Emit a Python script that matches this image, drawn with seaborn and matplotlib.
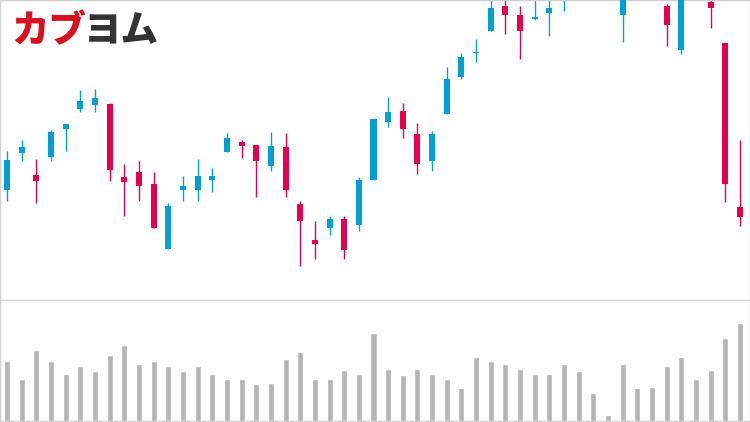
import numpy as np
import matplotlib
matplotlib.use("Agg")
import matplotlib.pyplot as plt
import seaborn as sns

# daily OHLC (yen) and volume (thousand shares)
opens = [1110, 1147, 1125, 1143, 1171, 1191, 1195, 1196, 1123, 1128,
         1116, 1051, 1110, 1110, 1120, 1148, 1158, 1155, 1134, 1153,
         1096, 1060, 1072, 1081, 1075, 1120, 1178, 1189, 1166, 1139,
         1186, 1223, 1247, 1269, 1294, 1285, 1281, 1287, 1303, 1318,
         1330, 1322, 1285, 1318, 1330, 1294, 1250, 1315, 1298, 1257,
         1093]
highs = [1149, 1160, 1141, 1170, 1176, 1210, 1211, 1197, 1136, 1139,
         1128, 1097, 1124, 1141, 1132, 1167, 1160, 1155, 1168, 1167,
         1099, 1079, 1084, 1084, 1123, 1181, 1203, 1197, 1177, 1169,
         1233, 1247, 1261, 1303, 1305, 1294, 1308, 1310, 1326, 1338,
         1342, 1345, 1325, 1340, 1336, 1296, 1322, 1333, 1312, 1257,
         1160]
lows = [1099, 1139, 1097, 1139, 1149, 1188, 1188, 1119, 1084, 1099,
        1072, 1051, 1099, 1099, 1108, 1148, 1142, 1103, 1129, 1103,
        1034, 1041, 1065, 1041, 1069, 1120, 1173, 1162, 1126, 1129,
        1186, 1221, 1238, 1269, 1266, 1241, 1280, 1264, 1289, 1310,
        1312, 1316, 1258, 1308, 1304, 1254, 1246, 1306, 1272, 1098,
        1074]
closes = [1140, 1153, 1119, 1168, 1176, 1199, 1202, 1130, 1118, 1114,
          1072, 1094, 1114, 1124, 1124, 1162, 1154, 1139, 1154, 1110,
          1079, 1056, 1081, 1050, 1120, 1181, 1188, 1171, 1136, 1166,
          1221, 1243, 1248, 1292, 1285, 1269, 1283, 1292, 1318, 1330,
          1322, 1335, 1318, 1330, 1312, 1275, 1315, 1325, 1292, 1116,
          1083]
volume = [60, 42, 71, 60, 47, 55, 50, 66, 76, 57,
          60, 55, 50, 55, 47, 42, 42, 37, 38, 62,
          69, 42, 42, 51, 47, 88, 52, 46, 52, 47,
          42, 33, 64, 60, 57, 52, 47, 47, 57, 50,
          28, 6, 57, 33, 34, 55, 64, 42, 51, 83,
          98]

UP = "#00a0d2"
DOWN = "#e6004e"
VOL = "#b4b4b4"
FRAME = "#d0d0d0"

sns.set_style("white")
plt.rcParams["font.family"] = ["Noto Sans CJK JP", "DejaVu Sans"]

W, H = 750, 422
fig = plt.figure(figsize=(W / 100, H / 100), dpi=100)
ax = fig.add_axes([0, 1 - 300 / H, 1, 300 / H])
axv = fig.add_axes([0, 1 / H, 1, 120 / H])

n = len(opens)
idx = np.arange(n)
o, h, l, c = map(np.array, (opens, highs, lows, closes))
up = c >= o
colors = np.where(up, UP, DOWN)

ax.vlines(idx, l, h, colors=colors, lw=1.0, zorder=2)
ax.bar(idx, np.maximum(np.abs(c - o), 0.8), bottom=np.minimum(o, c),
       width=0.41, color=colors, linewidth=0, zorder=3)
ax.set_ylim(1000, 1300)

sns.barplot(x=idx, y=volume, color=VOL, saturation=1, width=0.41, ax=axv)
axv.set_ylim(0, 120)

xlim = (-7 / 14.66, (W - 7) / 14.66)
for a in (ax, axv):
    a.set_xlim(*xlim)
    a.set_xticks([])
    a.set_yticks([])
    a.set_xlabel("")
    a.set_ylabel("")
    for s in a.spines.values():
        s.set_visible(True)
        s.set_color(FRAME)
        s.set_linewidth(1.0)
axv.spines["top"].set_visible(False)

# logo
fig.text(11 / W, 1 - 31 / H, "カブ", color="#d7111e", fontsize=27,
         fontweight="black", va="center", ha="left")
fig.text(84 / W, 1 - 31 / H, "ヨム", color="#333333", fontsize=27,
         fontweight="black", va="center", ha="left")

fig.savefig("out.png", dpi=100)
